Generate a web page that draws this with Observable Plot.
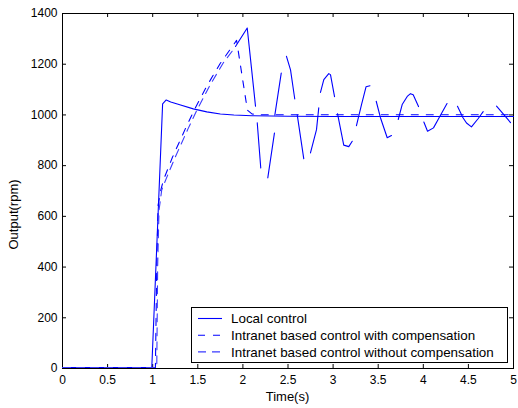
<!DOCTYPE html>
<html>
<head>
<meta charset="utf-8">
<script src="https://cdn.jsdelivr.net/npm/d3@7"></script>
<script src="https://cdn.jsdelivr.net/npm/@observablehq/plot@0.6"></script>
<style>
  html, body { margin: 0; padding: 0; background: #fff; }
  #chart svg { display: block; font-family: "Liberation Sans", Arial, sans-serif; }
</style>
</head>
<body>
<div id="chart"></div>
<script>
// ---- Data ----
const xTicks = [0, 0.5, 1, 1.5, 2, 2.5, 3, 3.5, 4, 4.5, 5];
const yTicks = [0, 200, 400, 600, 800, 1000, 1200, 1400];

const seriesNames = [
  "Local control",
  "Intranet based control with compensation",
  "Intranet based control without compensation"
];

// Local control (solid)
const localTime  = [0, 0.99, 1.11, 1.15, 1.2, 1.3, 1.45, 1.6, 1.75, 1.9, 2.1, 2.5, 3, 4, 5];
const localValue = [0, 0, 1040, 1055, 1047, 1036, 1020, 1008, 1000, 996, 993, 991, 990, 990, 990];

// Intranet based control with compensation (dashed)
const compTime  = [0, 1.03, 1.045, 1.06, 1.09, 1.12, 1.22, 1.36, 1.46, 1.6, 1.75, 1.93, 2.05, 2.1, 2.15, 5];
const compValue = [0, 0, 400, 640, 700, 740, 830, 940, 1015, 1110, 1200, 1290, 1015, 1000, 997, 997];

// Intranet based control without compensation: ramp part (dashed)
const noCompRampTime  = [0, 1.045, 1.055, 1.07, 1.10, 1.15, 1.25, 1.39, 1.49, 1.63, 1.78, 1.92];
const noCompRampValue = [0, 0, 400, 620, 700, 745, 830, 940, 1015, 1110, 1200, 1266];

// Without compensation: oscillation, visible strokes separated by gaps (NaN)
const noCompOscTime = [
  1.918, 2.048, 2.140, NaN,
  2.159, 2.198, NaN,
  2.276, 2.350, NaN,
  2.354, 2.425, NaN,
  2.483, 2.528, 2.575, NaN,
  2.602, 2.675, NaN,
  2.749, 2.816, 2.841, NaN,
  2.860, 2.897, 2.952, 2.971, 3.016, NaN,
  3.049, 3.118, 3.174, 3.212, NaN,
  3.259, 3.315, 3.365, 3.409, NaN,
  3.478, 3.525, 3.600, 3.647, NaN,
  3.722, 3.766, 3.822, 3.858, 3.888, 3.947, NaN,
  4.006, 4.047, 4.113, 4.169, 4.263, NaN,
  4.379, 4.440, 4.479, 4.534, 4.607, 4.664, NaN,
  4.812, 4.893, 4.967
];
const noCompOscValue = [
  1266, 1339, 1030, NaN,
  965, 787, NaN,
  748, 925, NaN,
  995, 1161, NaN,
  1227, 1174, 1059, NaN,
  997, 823, NaN,
  846, 938, 1024, NaN,
  1085, 1135, 1159, 1155, 1068, NaN,
  1001, 877, 871, 892, NaN,
  954, 1037, 1107, 1111, NaN,
  1050, 985, 906, 915, NaN,
  978, 1037, 1069, 1080, 1076, 1029, NaN,
  968, 932, 945, 981, 1041, NaN,
  1030, 985, 964, 949, 981, 1009, NaN,
  1031, 997, 966
];

// ---- Build tables ----
const zip = (xs, ys) => xs.map((t, i) => ({t, v: ys[i]}));
const local = zip(localTime, localValue);
const comp = zip(compTime, compValue);
const noCompRamp = zip(noCompRampTime, noCompRampValue);
const noCompOsc = zip(noCompOscTime, noCompOscValue);

// ---- Layout ----
const W = 518, H = 408;
const mL = 62, mR = 5, mT = 13, mB = 40;
const plotW = W - mL - mR, plotH = H - mT - mB;
const tick = 4;
const blue = "#0000ff";
const lightBlue = "#3a3aff";

const chart = Plot.plot({
  width: W, height: H,
  marginLeft: mL, marginRight: mR, marginTop: mT, marginBottom: mB,
  style: {fontSize: "12px", fontFamily: "'Liberation Sans', Arial, sans-serif", color: "#000", background: "#fff"},
  x: {domain: [0, 5]},
  y: {domain: [0, 1400]},
  marks: [
    Plot.frame({stroke: "#000", strokeWidth: 1}),
    Plot.tickX(xTicks, {x: d => d, insetTop: plotH - tick, stroke: "#000"}),
    Plot.tickX(xTicks, {x: d => d, insetBottom: plotH - tick, stroke: "#000"}),
    Plot.tickY(yTicks, {y: d => d, insetRight: plotW - tick, stroke: "#000"}),
    Plot.tickY(yTicks, {y: d => d, insetLeft: plotW - tick, stroke: "#000"}),
    Plot.line(local, {x: "t", y: "v", stroke: blue, strokeWidth: 1.1, dy: -1}),
    Plot.line(comp, {x: "t", y: "v", stroke: blue, strokeWidth: 1.1, strokeDasharray: "7,8", dy: -1}),
    Plot.line(noCompRamp, {x: "t", y: "v", stroke: lightBlue, strokeWidth: 1.1, strokeDasharray: "8,6", dy: -1}),
    Plot.line(noCompOsc, {x: "t", y: "v", stroke: blue, strokeWidth: 1.1, dy: -1}),
    Plot.axisX({ticks: xTicks, tickSize: 0, tickPadding: 7, tickFormat: d => String(d), label: null}),
    Plot.axisY({ticks: yTicks, tickSize: 0, tickPadding: 5, tickFormat: d => String(d), label: null})
  ]
});

const svg = d3.select(chart);
const font = "'Liberation Sans', Arial, sans-serif";

// Axis titles
svg.append("text")
  .attr("x", mL + plotW / 2).attr("y", 401)
  .attr("text-anchor", "middle")
  .attr("font-family", font).attr("font-size", 13).attr("fill", "#000")
  .text("Time(s)");
svg.append("text")
  .attr("transform", `translate(18, ${mT + plotH / 2 + 24}) rotate(-90)`)
  .attr("text-anchor", "middle")
  .attr("font-family", font).attr("font-size", 13).attr("fill", "#000")
  .text("Output(rpm)");

// Legend
const lg = svg.append("g").attr("text-anchor", "start");
lg.append("rect").attr("x", 191.5).attr("y", 307.5).attr("width", 316).attr("height", 55)
  .attr("fill", "#fff").attr("stroke", "#000").attr("stroke-width", 1);
const dashes = [null, "7,8", "8,6"];
const colors = [blue, blue, lightBlue];
seriesNames.forEach((name, i) => {
  const y = 318.5 + i * 16.7;
  lg.append("line").attr("x1", 198).attr("x2", 222).attr("y1", y).attr("y2", y)
    .attr("stroke", colors[i]).attr("stroke-width", 1.1)
    .attr("stroke-dasharray", dashes[i]);
  lg.append("text").attr("x", 231).attr("y", y).attr("dy", "0.35em")
    .attr("text-anchor", "start")
    .attr("font-family", font).attr("font-size", 13.4).attr("fill", "#000")
    .text(name);
});

document.getElementById("chart").appendChild(chart);
</script>
</body>
</html>
